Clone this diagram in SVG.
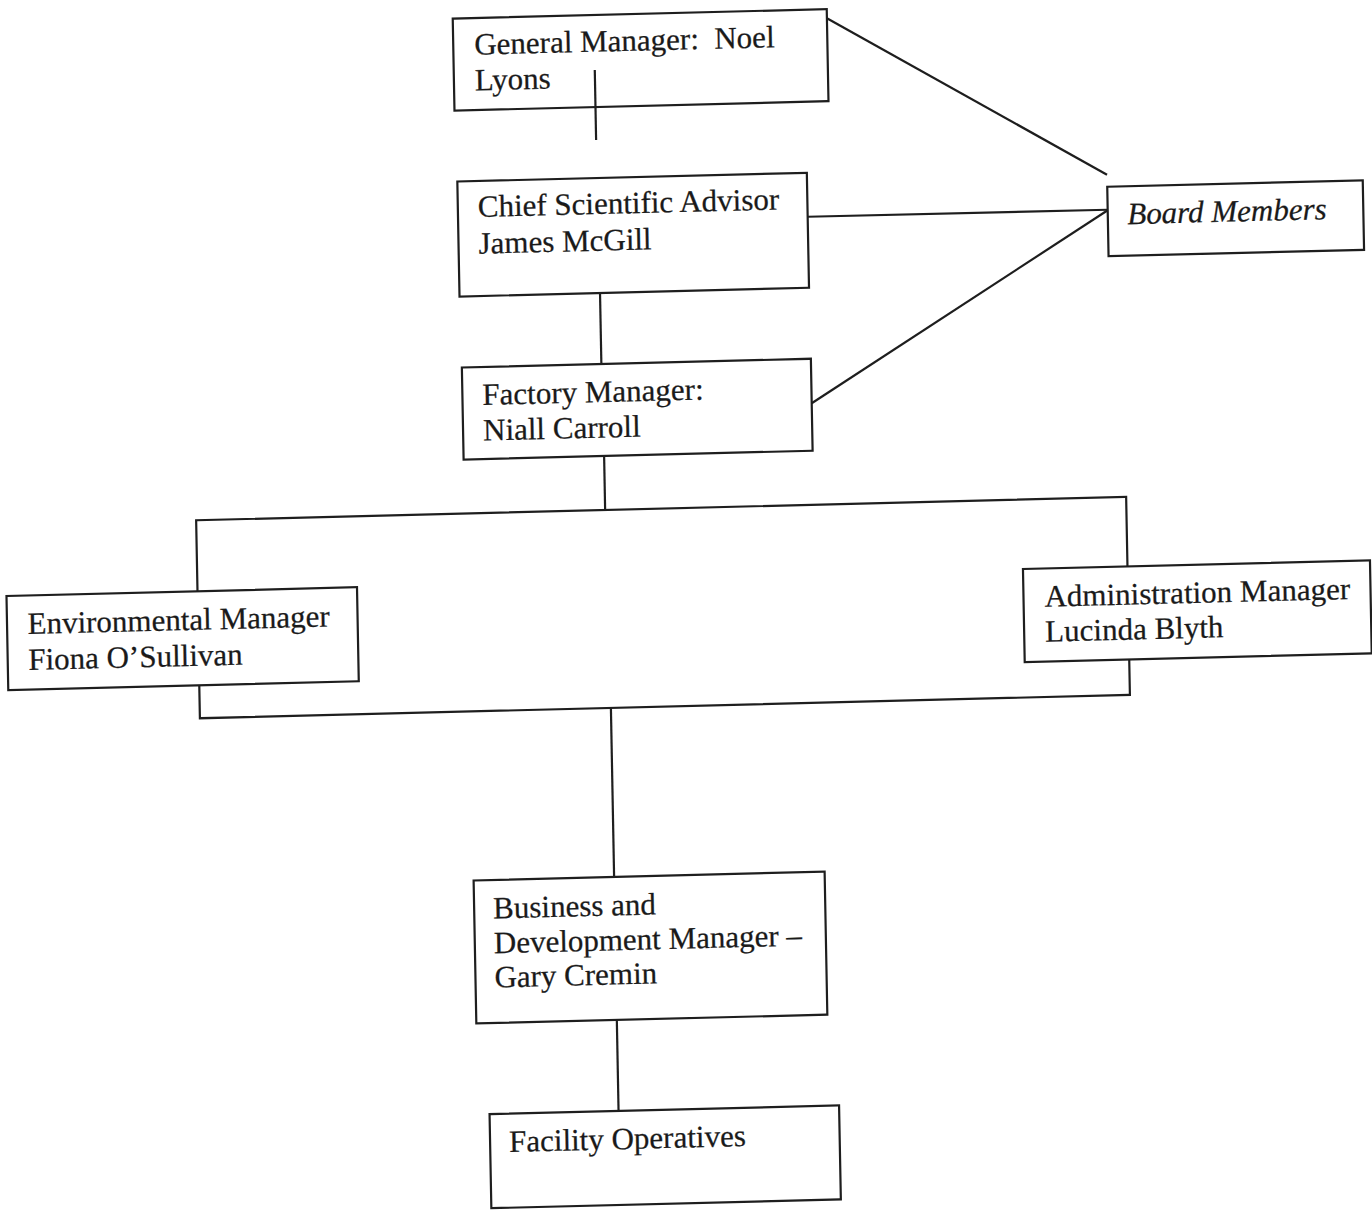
<svg xmlns="http://www.w3.org/2000/svg" width="1372" height="1213" viewBox="0 0 1372 1213">
  <style>
    .box { fill: #ffffff; stroke: #1e1e1e; stroke-width: 2.2; }
    .open { fill: none; }
    .line { fill: none; stroke: #1e1e1e; stroke-width: 2.2; }
    .lbl { font-family: "Liberation Serif", "Times New Roman", serif; font-size: 31px; fill: #1a1a1a; stroke: #1a1a1a; stroke-width: 0.25; white-space: pre; }
    .it { font-style: italic; }
  </style>
  <rect x="0" y="0" width="1372" height="1213" fill="#ffffff"/>
  <g transform="matrix(1,-0.0251,0.019,1,-11.51,17.22)">
    <g id="connectors">
      <line class="line" x1="605" y1="68" x2="605" y2="138"/>
      <line class="line" x1="606" y1="291" x2="606" y2="362"/>
      <line class="line" x1="607" y1="454" x2="607" y2="508"/>
      <rect class="line" x="198" y="508" width="930" height="198"/>
      <line class="line" x1="609" y1="706" x2="609" y2="875"/>
      <line class="line" x1="609" y1="1018" x2="609" y2="1109"/>
      <line class="line" x1="838" y1="22" x2="1115" y2="185.5"/>
      <line class="line" x1="815" y1="220" x2="1115" y2="220.5"/>
      <line class="line" x1="815.5" y1="406.5" x2="1115" y2="221"/>
    </g>
    <g id="general-manager">
      <rect class="box open" x="464" y="13" width="374" height="92"/>
      <text class="lbl" x="485" y="49.7" xml:space="preserve">General Manager:  Noel</text>
      <text class="lbl" x="485" y="85.4">Lyons</text>
    </g>
    <g id="chief-scientific-advisor">
      <rect class="box" x="465.5" y="176" width="349.5" height="115"/>
      <text class="lbl" x="485.5" y="212">Chief Scientific Advisor</text>
      <text class="lbl" x="485.5" y="248.7">James McGill</text>
    </g>
    <g id="factory-manager">
      <rect class="box" x="466.5" y="362" width="349" height="92"/>
      <text class="lbl" x="486.5" y="400">Factory Manager:</text>
      <text class="lbl" x="486.5" y="435.6">Niall Carroll</text>
    </g>
    <g id="board-members">
      <rect class="box" x="1115" y="197.5" width="255.5" height="69.5"/>
      <text class="lbl it" x="1134.5" y="235.4">Board Members</text>
    </g>
    <g id="environmental-manager">
      <rect class="box" x="7" y="579" width="350.5" height="94"/>
      <text class="lbl" x="27.5" y="617.5">Environmental Manager</text>
      <text class="lbl" x="27.5" y="653.5">Fiona O’Sullivan</text>
    </g>
    <g id="administration-manager">
      <rect class="box" x="1023.5" y="577.5" width="347" height="93"/>
      <text class="lbl" x="1044.5" y="615.7">Administration Manager</text>
      <text class="lbl" x="1044.5" y="650.7">Lucinda Blyth</text>
    </g>
    <g id="business-development-manager">
      <rect class="box" x="468.5" y="875" width="351" height="143"/>
      <text class="lbl" x="487.5" y="913.5">Business and</text>
      <text class="lbl" x="487.5" y="948.3">Development Manager –</text>
      <text class="lbl" x="487.5" y="982.5">Gary Cremin</text>
    </g>
    <g id="facility-operatives">
      <rect class="box" x="480" y="1109" width="349.5" height="94"/>
      <text class="lbl" x="499" y="1147.3">Facility Operatives</text>
    </g>
  </g>
</svg>
